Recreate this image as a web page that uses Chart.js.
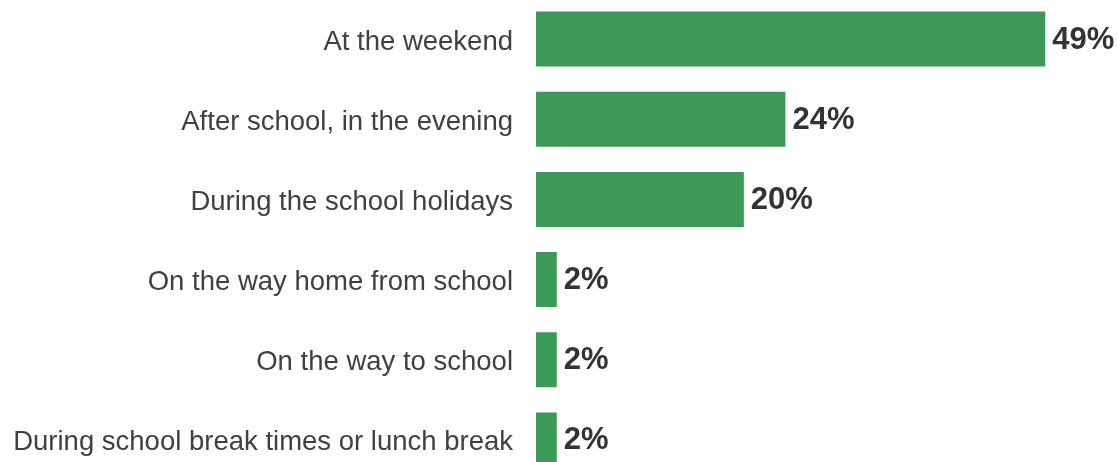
<!DOCTYPE html>
<html>
<head>
<meta charset="utf-8">
<script src="https://cdn.jsdelivr.net/npm/chart.js@4/dist/chart.umd.min.js"></script>
<style>
  html, body { margin: 0; padding: 0; background: #ffffff; overflow: hidden; }
  #chart { position: absolute; left: 0; top: -1px; width: 1118px; height: 481px; }
</style>
</head>
<body>
<canvas id="chart" width="1118" height="481"></canvas>
<script>
// When young people say they usually do this
const categories = [
  "At the weekend",
  "After school, in the evening",
  "During the school holidays",
  "On the way home from school",
  "On the way to school",
  "During school break times or lunch break"
];
const shares = [49, 24, 20, 2, 2, 2];
const valueSuffix = "%";

const barColor = "#3d9958";
const labelColor = "#404040";
const valueColor = "#333333";
const fontFamily = "'Liberation Sans', Arial, Helvetica, sans-serif";

// Writes each bar's value just past its end
const valueLabels = {
  id: "valueLabels",
  afterDatasetsDraw(chart) {
    const ctx = chart.ctx;
    const meta = chart.getDatasetMeta(0);
    ctx.save();
    ctx.font = "bold 31px " + fontFamily;
    ctx.fillStyle = valueColor;
    ctx.textAlign = "left";
    ctx.textBaseline = "middle";
    meta.data.forEach((bar, i) => {
      const v = chart.data.datasets[0].data[i];
      ctx.fillText(v + valueSuffix, bar.x + 7, bar.y + 1);
    });
    ctx.restore();
  }
};

new Chart(document.getElementById("chart"), {
  type: "bar",
  data: {
    labels: categories,
    datasets: [{
      data: shares,
      backgroundColor: barColor,
      borderWidth: 0,
      barPercentage: 0.686,
      categoryPercentage: 1.0
    }]
  },
  options: {
    indexAxis: "y",
    responsive: false,
    animation: false,
    layout: { padding: 0 },
    plugins: {
      legend: { display: false },
      tooltip: { enabled: false }
    },
    scales: {
      x: {
        display: false,
        min: 0,
        max: 56
      },
      y: {
        offset: true,
        grid: { display: false, drawTicks: false },
        border: { display: false },
        ticks: {
          padding: 23,
          color: labelColor,
          font: { family: fontFamily, size: 27.5 }
        },
        afterFit(scale) {
          // fixed label column; the bands run edge to edge vertically
          scale.width = 536;
          scale.paddingTop = 0;
          scale.paddingBottom = 0;
          if (!scale._labelsNudged) {
            // category labels sit a few pixels below the band centre
            const drawLabels = scale.drawLabels;
            scale.drawLabels = function (area) {
              this.ctx.save();
              this.ctx.translate(0, 3);
              drawLabels.call(this, area);
              this.ctx.restore();
            };
            scale._labelsNudged = true;
          }
        }
      }
    }
  },
  plugins: [valueLabels]
});
</script>
</body>
</html>
